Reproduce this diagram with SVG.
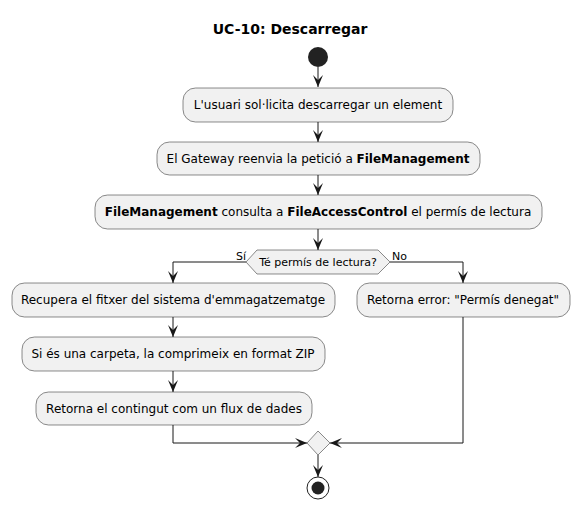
<svg xmlns="http://www.w3.org/2000/svg" width="580" height="507" viewBox="0 0 580 507">
<style>
  text { font-family: "DejaVu Sans", "Liberation Sans", sans-serif; fill: #000; }
  .title { font-size: 14px; font-weight: bold; }
  .act { font-size: 12px; text-anchor: middle; }
  .lbl { font-size: 11px; }
  .box { fill: #F1F1F1; stroke: #181818; stroke-width: 0.5; }
  .edge { fill: none; stroke: #181818; stroke-width: 1; }
  .b { font-weight: bold; }
</style>
<defs>
  <marker id="arr" viewBox="0 0 12 12" refX="12" refY="6" markerWidth="12" markerHeight="12" markerUnits="userSpaceOnUse" orient="auto">
    <path d="M0,1 L12,6 L0,11 L5,6 Z" fill="#181818"/>
  </marker>
</defs>
<rect width="580" height="507" fill="#FFFFFF"/>
<text class="title" x="290" y="34" text-anchor="middle">UC-10: Descarregar</text>

<g id="edges">
  <line class="edge" x1="318" y1="67" x2="318" y2="87" marker-end="url(#arr)"/>
  <line class="edge" x1="318" y1="122" x2="318" y2="142" marker-end="url(#arr)"/>
  <line class="edge" x1="318" y1="175" x2="318" y2="195" marker-end="url(#arr)"/>
  <line class="edge" x1="318" y1="229" x2="318" y2="250" marker-end="url(#arr)"/>
  <polyline class="edge" points="246,262 173,262 173,283" marker-end="url(#arr)"/>
  <polyline class="edge" points="390,262 463,262 463,283" marker-end="url(#arr)"/>
  <line class="edge" x1="173" y1="317" x2="173" y2="337" marker-end="url(#arr)"/>
  <line class="edge" x1="173" y1="371" x2="173" y2="392" marker-end="url(#arr)"/>
  <polyline class="edge" points="173,425 173,443 307,443" marker-end="url(#arr)"/>
  <polyline class="edge" points="463,317 463,443 330,443" marker-end="url(#arr)"/>
  <line class="edge" x1="318" y1="455" x2="318" y2="477" marker-end="url(#arr)"/>
  <text class="lbl" x="236" y="260">Sí</text>
  <text class="lbl" x="392" y="260">No</text>
</g>

<g id="start">
  <circle cx="318" cy="57" r="10" fill="#222222"/>
</g>

<g id="a1">
  <rect class="box" x="183" y="88" width="270" height="34" rx="12.5"/>
  <text class="act" x="318" y="109">L'usuari sol·licita descarregar un element</text>
</g>

<g id="a2">
  <rect class="box" x="157" y="142" width="323" height="33" rx="12.5"/>
  <text class="act" x="318" y="163">El Gateway reenvia la petició a <tspan class="b">FileManagement</tspan></text>
</g>

<g id="a3">
  <rect class="box" x="95" y="195" width="447" height="34" rx="12.5"/>
  <text class="act" x="318" y="216"><tspan class="b">FileManagement</tspan> consulta a <tspan class="b">FileAccessControl</tspan> el permís de lectura</text>
</g>

<g id="decision">
  <polygon class="box" points="246,262 257,250 378,250 390,262 378,274 257,274"/>
  <text class="lbl" x="318" y="266" text-anchor="middle">Té permís de lectura?</text>
</g>

<g id="a4">
  <rect class="box" x="12" y="283" width="323" height="34" rx="12.5"/>
  <text class="act" x="173" y="304">Recupera el fitxer del sistema d'emmagatzematge</text>
</g>

<g id="a5">
  <rect class="box" x="22" y="337" width="303" height="34" rx="12.5"/>
  <text class="act" x="173" y="358">Si és una carpeta, la comprimeix en format ZIP</text>
</g>

<g id="a6">
  <rect class="box" x="36" y="392" width="276" height="33" rx="12.5"/>
  <text class="act" x="174" y="413">Retorna el contingut com un flux de dades</text>
</g>

<g id="a7">
  <rect class="box" x="357" y="283" width="213" height="34" rx="12.5"/>
  <text class="act" x="463" y="304">Retorna error: "Permís denegat"</text>
</g>

<g id="merge">
  <polygon class="box" points="318,431 330,443 318,455 307,443"/>
</g>

<g id="end">
  <circle cx="318" cy="488" r="11" fill="none" stroke="#222222" stroke-width="1"/>
  <circle cx="318" cy="488" r="6.5" fill="#222222"/>
</g>
</svg>
